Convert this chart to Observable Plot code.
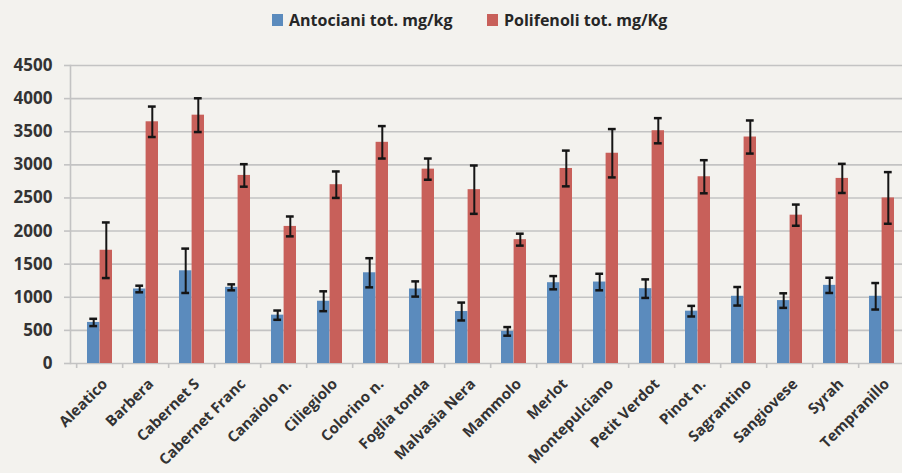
<!DOCTYPE html>
<html>
<head>
<meta charset="utf-8">
<script src="https://cdn.jsdelivr.net/npm/d3@7"></script>
<script src="https://cdn.jsdelivr.net/npm/@observablehq/plot@0.6"></script>
<style>
  html, body { margin: 0; padding: 0; background: #f3f2ee; overflow: hidden; }
  body { width: 902px; height: 473px; font-family: "Open Sans", sans-serif; }
  #legend { height: 45px; position: relative; font-weight: 700; font-size: 16px; color: #262626; }
  .item { position: absolute; top: 9px; display: flex; align-items: center; }
  .sw { width: 11px; height: 12px; margin-right: 6px; }
  svg { display: block; }
</style>
</head>
<body>
<div id="legend"></div>
<div id="chart"></div>
<script>
const categories = ["Aleatico","Barbera","Cabernet S","Cabernet Franc","Canaiolo n.","Ciliegiolo","Colorino n.","Foglia tonda","Malvasia Nera","Mammolo","Merlot","Montepulciano","Petit Verdot","Pinot n.","Sagrantino","Sangiovese","Syrah","Tempranillo"];
const antociani    = [620,1125,1400,1150,730,940,1370,1125,785,485,1220,1230,1130,790,1015,950,1180,1015];
const antocianiErr = [55,50,335,45,70,150,220,115,135,65,100,125,140,80,140,110,115,200];
const polifenoli    = [1710,3650,3750,2840,2070,2700,3340,2935,2625,1870,2945,3175,3515,2820,3420,2240,2795,2500];
const polifenoliErr = [420,230,255,170,150,200,245,160,365,90,270,365,190,250,250,160,220,390];
const yTicks = [0,500,1000,1500,2000,2500,3000,3500,4000,4500];
const seriesNames = ["Antociani tot. mg/kg", "Polifenoli tot. mg/Kg"];
const seriesColors = ["#5b8bbd", "#c8605a"];

const rows = categories.map((c, i) => ({cat: c, a: antociani[i], ae: antocianiErr[i], p: polifenoli[i], pe: polifenoliErr[i]}));

// legend
const legend = document.getElementById("legend");
const legendLeft = [272, 487];
seriesNames.forEach((n, i) => {
  const it = document.createElement("div");
  it.className = "item";
  it.style.left = legendLeft[i] + "px";
  it.innerHTML = `<span class="sw" style="background:${seriesColors[i]}"></span><span>${n}</span>`;
  legend.appendChild(it);
});

const W = 902, H = 428;
const x0 = 70, x1 = 910;
const pIn = 0.46, pOut = 0.23;
const step = (x1 - x0) / (categories.length - pIn + 2 * pOut);
const bw = step * (1 - pIn);
const cap = 4;
const grid = "#c3c3c3";
const err = "#151515";
const font = "Open Sans, sans-serif";

const chart = Plot.plot({
  width: W,
  height: H,
  marginTop: 20,
  marginBottom: 110,
  marginLeft: x0,
  marginRight: W - x1,
  style: {background: "transparent", fontFamily: font},
  x: {domain: categories, range: [x0, x1], paddingInner: pIn, paddingOuter: pOut, align: 0.5},
  y: {domain: [0, 4500], range: [H - 110, 20]},
  marks: [
    Plot.gridY(yTicks, {stroke: grid, strokeOpacity: 1, strokeWidth: 1.6}),
    Plot.frame({anchor: "left", stroke: grid, strokeWidth: 1.6}),
    Plot.axisY(yTicks, {tickSize: 6, tickPadding: 12, stroke: grid, strokeWidth: 1.6, fill: "#333", fontSize: 17, fontWeight: 700, label: null, tickFormat: d => String(d)}),
    Plot.axisX({tickSize: 5, text: null, dx: -step / 2, stroke: grid, strokeWidth: 1.6, label: null}),
    Plot.axisX({tickSize: 0, tickPadding: 18, dx: 5, tickRotate: -45, fill: "#333", fontSize: 15, fontWeight: 700, label: null}),
    Plot.barY(rows, {x: "cat", y: "a", fill: seriesColors[0], insetRight: bw / 2}),
    Plot.barY(rows, {x: "cat", y: "p", fill: seriesColors[1], insetLeft: bw / 2}),
    Plot.ruleX(rows, {x: "cat", y1: d => d.a - d.ae, y2: d => d.a + d.ae, dx: -bw / 4, stroke: err, strokeWidth: 2}),
    Plot.tickY(rows, {x: "cat", y: d => d.a + d.ae, insetLeft: bw / 4 - cap, insetRight: 3 * bw / 4 - cap, stroke: err, strokeWidth: 2.5}),
    Plot.tickY(rows, {x: "cat", y: d => d.a - d.ae, insetLeft: bw / 4 - cap, insetRight: 3 * bw / 4 - cap, stroke: err, strokeWidth: 2.5}),
    Plot.ruleX(rows, {x: "cat", y1: d => d.p - d.pe, y2: d => d.p + d.pe, dx: bw / 4, stroke: err, strokeWidth: 2}),
    Plot.tickY(rows, {x: "cat", y: d => d.p + d.pe, insetLeft: 3 * bw / 4 - cap, insetRight: bw / 4 - cap, stroke: err, strokeWidth: 2.5}),
    Plot.tickY(rows, {x: "cat", y: d => d.p - d.pe, insetLeft: 3 * bw / 4 - cap, insetRight: bw / 4 - cap, stroke: err, strokeWidth: 2.5})
  ]
});
document.getElementById("chart").appendChild(chart);
</script>
</body>
</html>
